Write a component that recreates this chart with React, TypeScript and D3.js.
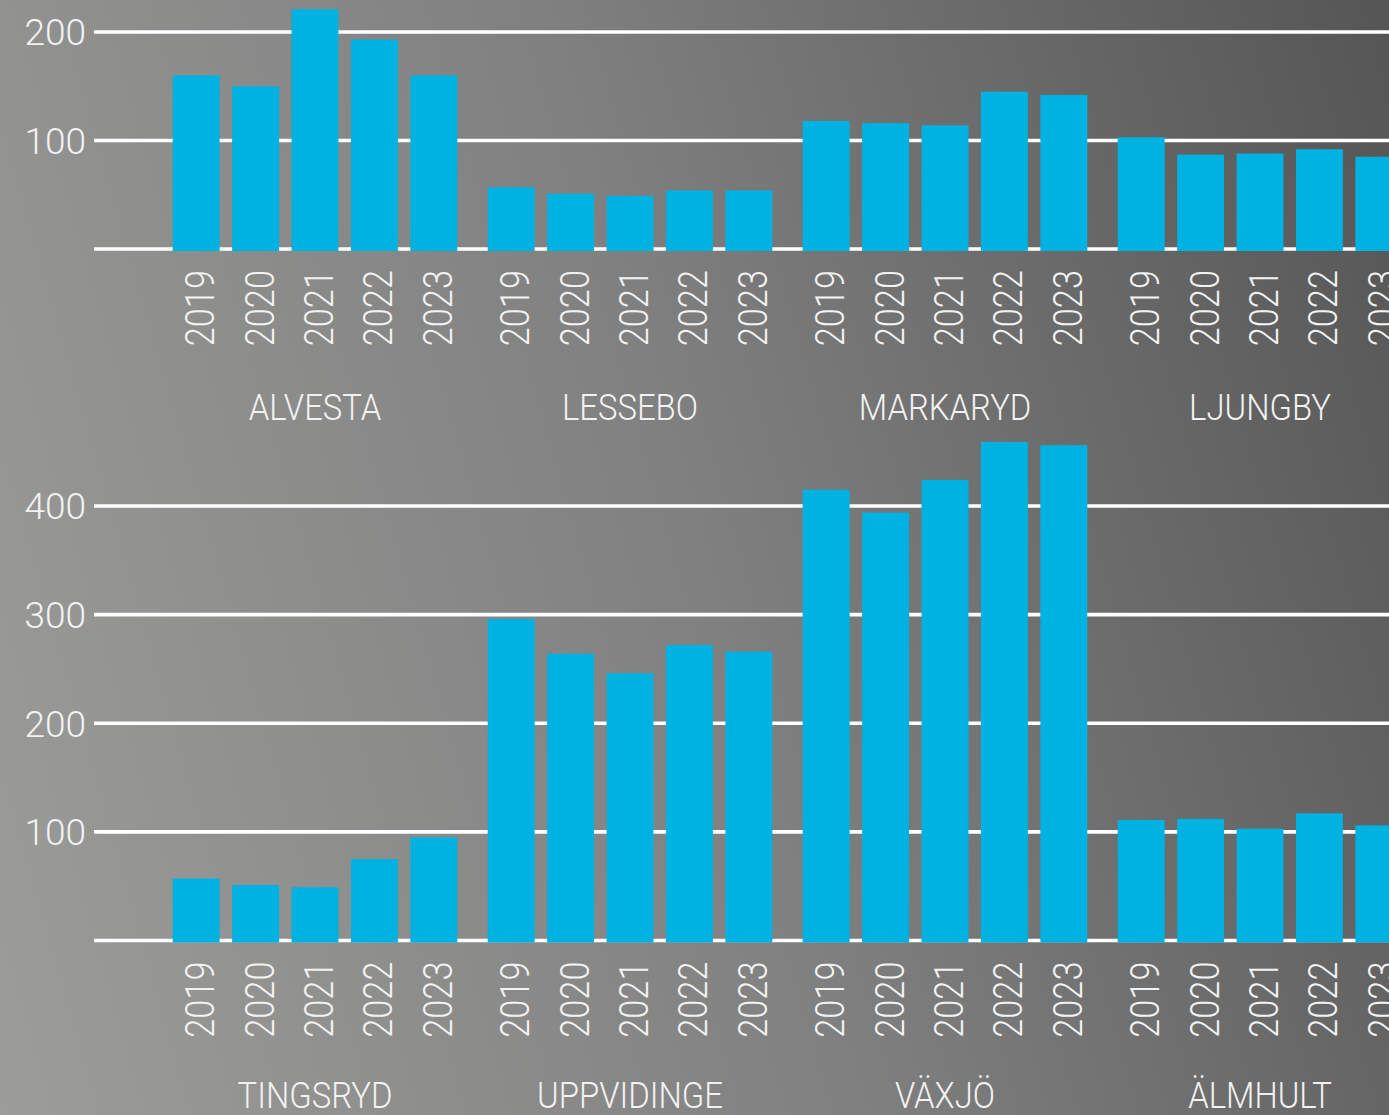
import * as d3 from "d3";

const W = 1389;
const H = 1115;

const years = ["2019", "2020", "2021", "2022", "2023"];

const townsTop = ["ALVESTA", "LESSEBO", "MARKARYD", "LJUNGBY"];
const valuesTop = [
  [160, 150, 221, 193, 160],
  [57, 51, 49, 54, 54],
  [118, 116, 114, 145, 142],
  [103, 87, 88, 92, 85],
];
const ticksTop = [100, 200];

const townsBottom = ["TINGSRYD", "UPPVIDINGE", "VÄXJÖ", "ÄLMHULT"];
const valuesBottom = [
  [57, 51, 49, 75, 95],
  [296, 264, 246, 272, 266],
  [415, 394, 424, 459, 456],
  [111, 112, 103, 117, 106],
];
const ticksBottom = [100, 200, 300, 400];

const BAR = "#00b2e2";
const TEXT = "#f2f2f2";
const FONT = "Roboto, 'Liberation Sans', sans-serif";

// outer scale: one band per town, inner: one band per year
const xTown = d3
  .scaleBand<number>()
  .domain([0, 1, 2, 3])
  .range([172.7, 172.7 + 4 * 315]);

const xYear = d3
  .scaleBand<string>()
  .domain(years)
  .range([0, 284.6])
  .paddingInner(0.21)
  .paddingOuter(0);

type PanelProps = {
  towns: string[];
  values: number[][];
  ticks: number[];
  max: number;
  y0: number;
  yTop: number;
  labelOffset: number;
};

const Panel = ({ towns, values, ticks, max, y0, yTop, labelOffset }: PanelProps) => {
  const y = d3.scaleLinear().domain([0, max]).range([y0, yTop]);
  const bw = xYear.bandwidth();

  return (
    <g>
      {/* gridlines incl. baseline */}
      {[0, ...ticks].map((t) => (
        <line
          key={t}
          x1={94}
          x2={W}
          y1={y(t)}
          y2={y(t)}
          stroke="#ffffff"
          strokeWidth={3.6}
        />
      ))}

      {/* y labels */}
      {ticks.map((t) => (
        <text
          key={t}
          x={86}
          y={y(t)}
          dy="0.36em"
          textAnchor="end"
          fontSize={37}
          fontWeight={300}
          fontFamily={FONT}
          fill={TEXT}
        >
          {t}
        </text>
      ))}

      {towns.map((town, i) => {
        const gx = xTown(i) as number;
        return (
          <g key={town}>
            {values[i].map((v, j) => {
              const bx = gx + (xYear(years[j]) as number);
              return (
                <rect
                  key={j}
                  x={bx}
                  y={y(v)}
                  width={bw}
                  height={y(0) - y(v) + 2}
                  fill={BAR}
                />
              );
            })}

            {/* year labels */}
            {years.map((yr) => {
              const cx = gx + (xYear(yr) as number) + bw / 2 + 4;
              return (
                <g
                  key={yr}
                  transform={`translate(${cx},${y0 + 21}) rotate(-90) scale(0.86,1)`}
                >
                  <text
                    x={0}
                    y={0}
                    dy="0.35em"
                    textAnchor="end"
                    fontSize={40}
                    fontWeight={300}
                    fontFamily={FONT}
                    fill={TEXT}
                  >
                    {yr}
                  </text>
                </g>
              );
            })}

            {/* town label */}
            <g
              transform={`translate(${gx + 284.6 / 2},${y0 + labelOffset}) scale(0.9,1)`}
            >
              <text
                x={0}
                y={0}
                textAnchor="middle"
                fontSize={36.5}
                fontWeight={300}
                fontFamily={FONT}
                fill={TEXT}
              >
                {town}
              </text>
            </g>
          </g>
        );
      })}
    </g>
  );
};

const App = () => {
  return (
    <div style={{ position: "absolute", left: 0, top: 0 }}>
      <svg width={W} height={H} style={{ display: "block" }}>
        <defs>
          <linearGradient
            id="bg"
            gradientUnits="userSpaceOnUse"
            x1={0}
            y1={H}
            x2={1583}
            y2={664}
          >
            <stop offset="0" stopColor="#9c9c9a" />
            <stop offset="0.5" stopColor="#808080" />
            <stop offset="1" stopColor="#555555" />
          </linearGradient>
        </defs>
        <rect x={0} y={0} width={W} height={H} fill="url(#bg)" />

        <Panel
          towns={townsTop}
          values={valuesTop}
          ticks={ticksTop}
          max={200}
          y0={249}
          yTop={32}
          labelOffset={171}
        />
        <Panel
          towns={townsBottom}
          values={valuesBottom}
          ticks={ticksBottom}
          max={400}
          y0={940.5}
          yTop={506}
          labelOffset={167.5}
        />
      </svg>
    </div>
  );
};

export default App;
